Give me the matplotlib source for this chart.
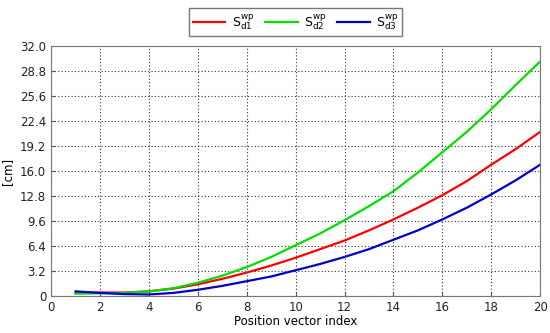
import matplotlib
matplotlib.use('Agg')
import matplotlib.pyplot as plt
import numpy as np

# position vector index
idx = list(range(1, 21))

# deviations [cm]
s_d1 = [0.4, 0.45, 0.45, 0.6, 0.95, 1.5, 2.2, 3.0, 3.9, 4.9,
        6.0, 7.1, 8.4, 9.8, 11.3, 12.9, 14.7, 16.8, 18.8, 21.0]
s_d2 = [0.3, 0.35, 0.4, 0.6, 1.0, 1.7, 2.6, 3.7, 5.0, 6.5,
        8.0, 9.7, 11.5, 13.4, 15.8, 18.4, 21.0, 23.9, 27.0, 30.0]
s_d3 = [0.6, 0.4, 0.25, 0.2, 0.4, 0.8, 1.3, 1.9, 2.5, 3.3,
        4.1, 5.0, 6.0, 7.2, 8.4, 9.8, 11.3, 13.0, 14.8, 16.8]

yticks = [0, 3.2, 6.4, 9.6, 12.8, 16.0, 19.2, 22.4, 25.6, 28.8, 32.0]
ytick_labels = ['0', '3.2', '6.4', '9.6', '12.8', '16.0', '19.2', '22.4', '25.6', '28.8', '32.0']
xticks = list(range(0, 21, 2))

fig = plt.figure(figsize=(5.5, 3.33), dpi=100)
ax = fig.add_axes([0.093, 0.111, 0.889, 0.751])

ax.plot(idx, s_d1, c='#ff0000', lw=1.6, label=r'$\mathrm{S}_{\mathrm{d1}}^{\mathrm{wp}}$')
ax.plot(idx, s_d2, c='#00e000', lw=1.6, label=r'$\mathrm{S}_{\mathrm{d2}}^{\mathrm{wp}}$')
ax.plot(idx, s_d3, c='#0000c8', lw=1.6, label=r'$\mathrm{S}_{\mathrm{d3}}^{\mathrm{wp}}$')

ax.set_xlim(0, 20)
ax.set_ylim(0, 32)
ax.set_xticks(xticks)
ax.set_yticks(yticks)
ax.set_yticklabels(ytick_labels)
ax.tick_params(direction='in', length=3, labelsize=8.5, color='#555555', labelcolor='#222222')
ax.grid(True, linestyle=(0, (1, 2)), color='#333333', lw=0.8)
for sp in ax.spines.values():
    sp.set_color('#777777')

ax.set_xlabel('Position vector index', fontsize=8.5, labelpad=1)
ax.set_ylabel('[cm]', fontsize=8.5)

leg = ax.legend(loc='center', bbox_to_anchor=(0.50, 1.096), ncol=3, fontsize=9,
                frameon=True, fancybox=False, edgecolor='#555555',
                handlelength=2.6, columnspacing=0.9, borderpad=0.3, handletextpad=0.5)
leg.get_frame().set_linewidth(1.0)

fig.savefig('out.png', dpi=100)
